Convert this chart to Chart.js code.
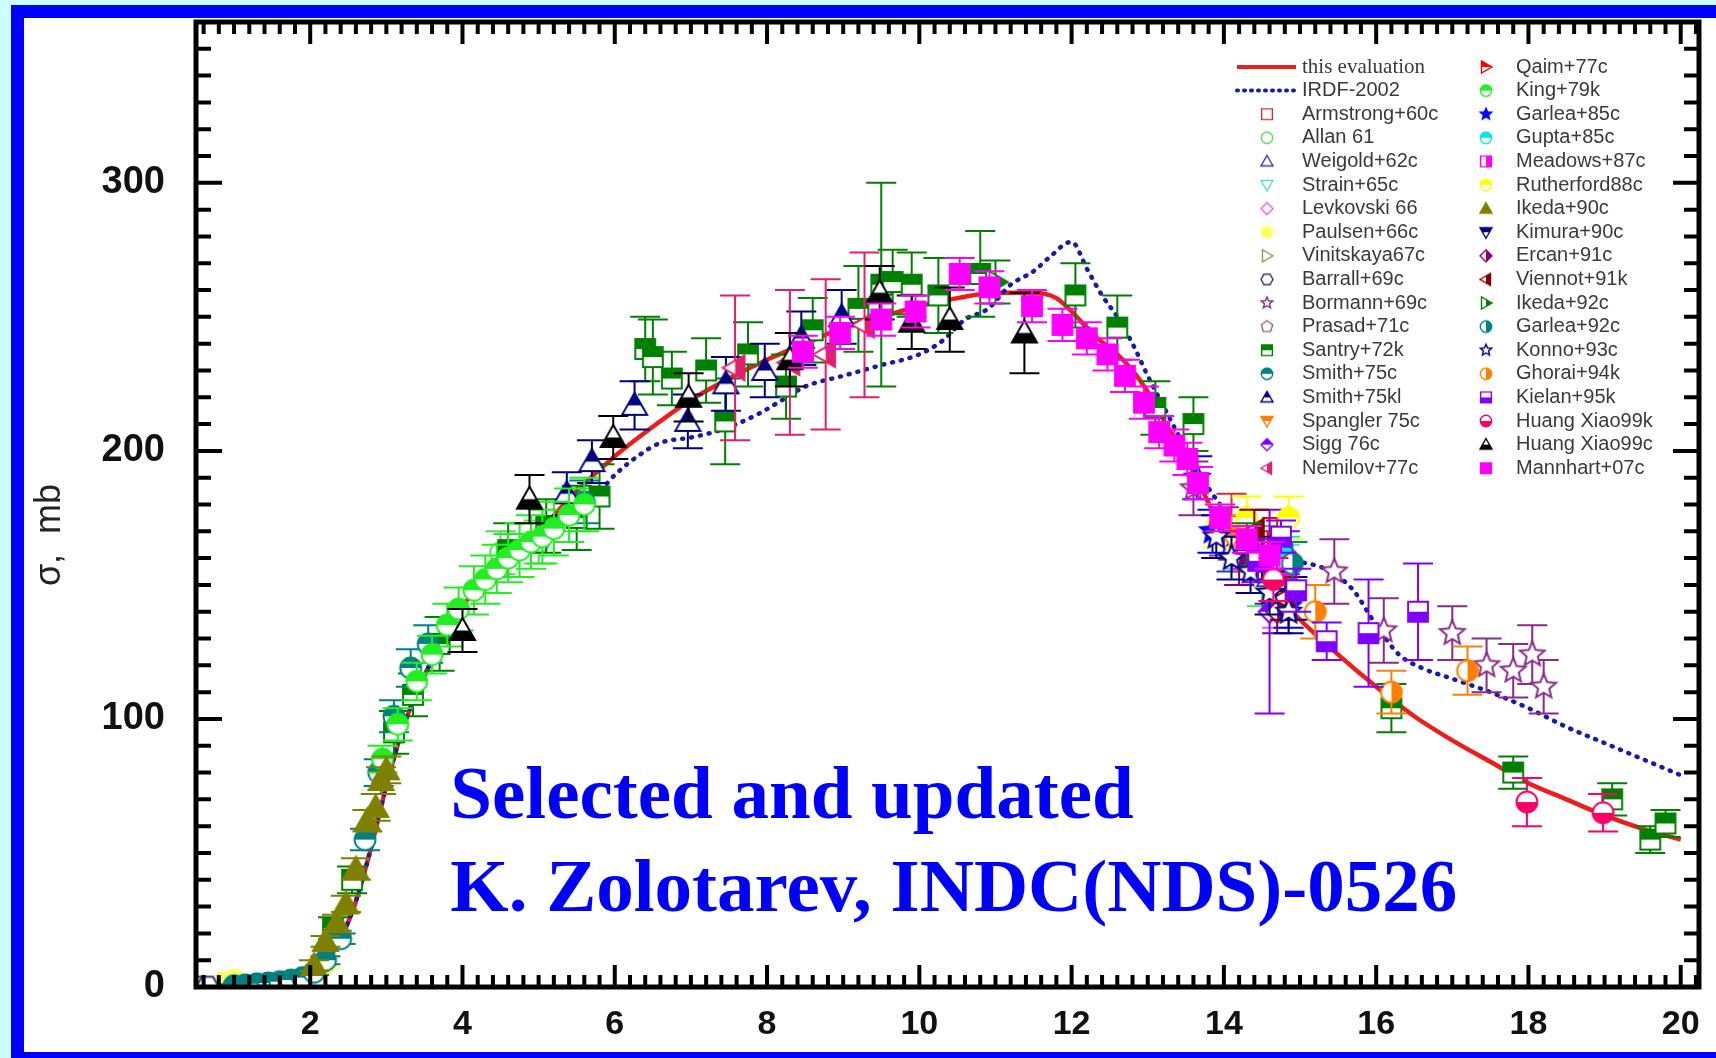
<!DOCTYPE html>
<html>
<head>
<meta charset="utf-8">
<title>Cross section</title>
<script src="https://cdn.jsdelivr.net/npm/chart.js@4.4.1/dist/chart.umd.min.js"></script>
<style>
  html, body { margin: 0; padding: 0; background: #ccffff; }
  #wrap { width: 1716px; height: 1058px; }
</style>
</head>
<body>
<div id="wrap"><canvas id="xsChart" width="1716" height="1058"></canvas></div>
<script>
// axes
const xTickVals = [2, 4, 6, 8, 10, 12, 14, 16, 18, 20];
const yTickVals = [0, 100, 200, 300];

// evaluated curves (E in MeV, sigma in mb)
const evalE = [0.5, 1.0, 1.5, 1.8, 2.0, 2.2, 2.4, 2.6, 2.8, 3.0, 3.2, 3.4, 3.6, 3.8, 4.0, 4.3, 4.6, 5.0, 5.5, 6.0, 6.5, 7.0, 7.5, 8.0, 8.5, 9.0, 9.5, 10.0, 10.5, 11.0, 11.5, 11.8, 12.0, 12.3, 12.6, 12.8, 13.0, 13.2, 13.4, 13.6, 13.9, 14.2, 14.5, 15.0, 15.5, 16.0, 16.5, 17.0, 17.5, 18.0, 18.5, 19.0, 19.5, 20.0];
const evalS = [0, 0.3, 1.0, 2.0, 4, 9, 18, 32, 52, 75, 95, 110, 122, 133, 142, 152, 160, 170, 185, 198, 209, 219, 227, 234, 240, 246, 250, 254, 257, 259, 259, 257, 252, 243, 236, 230, 222, 212, 202, 192, 175, 162, 152, 137, 124, 112, 101, 92, 84, 76, 70, 64, 59, 55];
const irdfE = [0.5, 1.0, 1.5, 2.0, 2.2, 2.4, 2.6, 2.8, 3.0, 3.2, 3.4, 3.6, 3.8, 4.0, 4.5, 5.0, 5.5, 5.8, 6.0, 6.3, 6.6, 7.0, 7.3, 7.6, 7.9, 8.2, 8.5, 9.0, 9.5, 10.0, 10.3, 10.6, 10.9, 11.2, 11.5, 11.7, 12.0, 12.2, 12.4, 12.6, 12.8, 13.0, 13.2, 13.4, 13.6, 13.8, 14.0, 14.2, 14.5, 14.8, 15.1, 15.4, 15.7, 16.0, 16.3, 16.6, 17.0, 17.5, 18.0, 18.5, 19.0, 19.5, 20.0];
const irdfS = [0, 0.3, 1.0, 4, 9, 18, 32, 52, 75, 95, 110, 122, 133, 142, 158, 170, 180, 185, 191, 198, 203, 205, 207, 210, 214, 219, 224, 228, 232, 236, 241, 249, 253, 262, 267, 272, 278, 268, 258, 250, 240, 228, 217, 206, 195, 186, 178, 170, 163, 159, 158, 155, 148, 135, 124, 119, 115, 110, 104, 97, 91, 85, 79];

// experimental data: [E (MeV), sigma (mb), error (mb)]
const armstrong60c = [[14.1, 172, 12], [14.7, 158, 12]];
const allan61 = [[4.5, 162, 8], [5.0, 166, 8], [5.5, 178, 8], [14.5, 152, 10]];
const weigold62c = [[14.1, 163, 8], [14.6, 153, 10]];
const strain65c = [[14.2, 166, 10], [14.8, 157, 8]];
const levkovski66 = [[14.7, 146, 12]];
const paulsen66c = [[0.85, 1.5, 1], [1.0, 2.5, 1], [2.2, 9, 2], [13.9, 172, 8]];
const vinitskaya67c = [[14.5, 162, 10]];
const barrall69c = [[0.55, 0.3, 0.3], [0.65, 0.3, 0.3], [14.7, 150, 8]];
const bormann69c = [[13.6, 186, 10], [14.0, 170, 9], [15.45, 155, 12], [16.1, 133, 12], [17.0, 132, 10], [17.45, 120, 10], [17.8, 118, 10], [18.05, 124, 11], [18.2, 112, 10]];
const prasad71c = [[14.3, 163, 8]];
const santry72k = [[2.3, 22, 4], [2.55, 40, 5], [3.1, 95, 8], [3.35, 109, 8], [3.7, 128, 10], [4.6, 163, 10], [5.1, 172, 10], [5.5, 175, 12], [5.8, 183, 12], [6.4, 238, 12], [6.5, 235, 14], [6.75, 227, 10], [7.2, 230, 12], [7.45, 211, 16], [7.75, 236, 12], [8.25, 224, 12], [8.6, 245, 12], [9.2, 253, 16], [9.5, 262, 38], [9.65, 263, 12], [9.9, 262, 12], [10.25, 258, 14], [10.8, 266, 16], [12.05, 258, 12], [12.6, 246, 12], [13.1, 216, 10], [13.6, 210, 10], [16.2, 104, 9], [17.8, 80, 6], [19.1, 70, 6], [19.6, 55, 5], [19.8, 61, 5]];
const smith75c = [[1.0, 0.5, 0.5], [1.15, 0.8, 0.5], [1.3, 1.2, 0.5], [1.45, 1.5, 0.6], [1.6, 2, 0.6], [1.75, 2.6, 0.7], [1.9, 3.5, 0.8], [2.05, 5.5, 1], [2.2, 10, 1.5], [2.4, 18, 2], [2.72, 55, 4], [2.9, 80, 5], [3.1, 101, 6], [3.32, 119, 7], [3.55, 128, 7], [5.6, 181, 8]];
const smith75kl = [[5.37, 184, 8], [5.7, 196, 8], [6.26, 217, 9], [6.96, 211, 10], [7.46, 225, 10], [7.97, 230, 10], [8.45, 242, 10], [8.98, 250, 10]];
const spangler75c = [[14.1, 168, 8]];
const sigg76c = [[14.6, 140, 38], [14.8, 162, 8]];
const nemilov77c = [[7.58, 231, 27], [8.3, 233, 27], [8.77, 236, 28], [9.28, 247, 27]];
const qaim77c = [[14.7, 165, 10]];
const king79k = [[2.95, 85, 5], [3.15, 98, 6], [3.4, 114, 7], [3.6, 124, 7], [3.8, 135, 8], [3.95, 141, 8], [4.15, 148, 9], [4.3, 152, 9], [4.45, 156, 9], [4.6, 160, 9], [4.75, 163, 10], [4.9, 166, 10], [5.05, 168, 10], [5.2, 171, 10], [5.4, 176, 10], [5.6, 180, 10]];
const garlea85c = [[13.65, 190, 8], [13.85, 170, 8], [14.85, 142, 8]];
const gupta85c = [[14.8, 160, 8]];
const meadows87c = [[14.3, 162, 6], [14.8, 150, 6]];
const rutherford88c = [[14.3, 175, 8], [14.85, 175, 8]];
const ikeda90c = [[2.05, 8, 2], [2.2, 17, 2], [2.35, 24, 3], [2.47, 31, 3], [2.6, 44, 4], [2.75, 62, 4], [2.86, 67, 5], [2.93, 77, 5], [3.0, 81, 5]];
const kimura90c = [[14.5, 160, 8], [14.9, 145, 8]];
const ercan91c = [[14.2, 160, 10], [14.7, 140, 8]];
const viennot91k = [[14.4, 170, 8], [14.8, 145, 8]];
const ikeda92c = [[11.0, 263, 8], [14.3, 165, 8]];
const garlea92c = [[14.9, 158, 8]];
const konno93c = [[13.9, 168, 8], [14.1, 160, 8], [14.35, 155, 8], [14.6, 147, 8], [14.85, 140, 8]];
const ghorai94k = [[15.2, 140, 10], [16.2, 110, 8], [17.2, 118, 9]];
const kielan95k = [[14.45, 159, 8], [14.75, 168, 6], [14.95, 148, 8], [15.35, 129, 7], [15.9, 132, 20], [16.55, 140, 18]];
const huang99k = [[14.65, 152, 8], [17.98, 69, 9], [18.98, 65, 7]];
const huang99c = [[4.0, 133, 8], [4.88, 182, 9], [5.98, 205, 8], [6.97, 220, 9], [8.3, 234, 10], [9.48, 259, 10], [9.9, 248, 10], [10.4, 249, 12], [11.38, 244, 15]];
const mannhart07c = [[8.47, 237, 6], [8.96, 244, 6], [9.5, 249, 6], [9.95, 252, 6], [10.53, 266, 6], [10.92, 261, 6], [11.48, 254, 6], [11.88, 247, 6], [12.2, 242, 6], [12.47, 236, 6], [12.7, 228, 6], [12.95, 218, 6], [13.15, 207, 6], [13.35, 202, 6], [13.52, 197, 6], [13.66, 188, 6], [13.95, 175, 5], [14.3, 167, 5], [14.6, 161, 5]];

const series = [
  { label: 'Armstrong+60c', data: armstrong60c, shape: 'square', color: '#cc3333', fill: 'open' },
  { label: 'Allan 61', data: allan61, shape: 'circle', color: '#55dd55', fill: 'open' },
  { label: 'Weigold+62c', data: weigold62c, shape: 'triUp', color: '#3333bb', fill: 'open' },
  { label: 'Strain+65c', data: strain65c, shape: 'triDown', color: '#55dddd', fill: 'open' },
  { label: 'Levkovski 66', data: levkovski66, shape: 'diamond', color: '#ee55ee', fill: 'open' },
  { label: 'Paulsen+66c', data: paulsen66c, shape: 'circle', color: '#ffff66', fill: 'full' },
  { label: 'Vinitskaya67c', data: vinitskaya67c, shape: 'triRight', color: '#999955', fill: 'open' },
  { label: 'Barrall+69c', data: barrall69c, shape: 'hexagon', color: '#333377', fill: 'open' },
  { label: 'Bormann+69c', data: bormann69c, shape: 'star', color: '#8a2a8a', fill: 'open' },
  { label: 'Prasad+71c', data: prasad71c, shape: 'pentagon', color: '#996666', fill: 'open' },
  { label: 'Santry+72k', data: santry72k, shape: 'square', color: '#008000', fill: 'top' },
  { label: 'Smith+75c', data: smith75c, shape: 'circle', color: '#008080', fill: 'top' },
  { label: 'Smith+75kl', data: smith75kl, shape: 'triUp', color: '#000080', fill: 'top' },
  { label: 'Spangler 75c', data: spangler75c, shape: 'triDown', color: '#ff8000', fill: 'top' },
  { label: 'Sigg 76c', data: sigg76c, shape: 'diamond', color: '#8000ff', fill: 'top' },
  { label: 'Nemilov+77c', data: nemilov77c, shape: 'triLeft', color: '#e0206f', fill: 'right' },
  { label: 'Qaim+77c', data: qaim77c, shape: 'triRight', color: '#ff0000', fill: 'top' },
  { label: 'King+79k', data: king79k, shape: 'circle', color: '#22ee22', fill: 'top' },
  { label: 'Garlea+85c', data: garlea85c, shape: 'star', color: '#0000ff', fill: 'full' },
  { label: 'Gupta+85c', data: gupta85c, shape: 'circle', color: '#00e5ee', fill: 'top' },
  { label: 'Meadows+87c', data: meadows87c, shape: 'square', color: '#ff00ff', fill: 'right' },
  { label: 'Rutherford88c', data: rutherford88c, shape: 'circle', color: '#ffff00', fill: 'top' },
  { label: 'Ikeda+90c', data: ikeda90c, shape: 'triUp', color: '#808000', fill: 'full' },
  { label: 'Kimura+90c', data: kimura90c, shape: 'triDown', color: '#000080', fill: 'top' },
  { label: 'Ercan+91c', data: ercan91c, shape: 'diamond', color: '#800080', fill: 'right' },
  { label: 'Viennot+91k', data: viennot91k, shape: 'triLeft', color: '#800000', fill: 'right' },
  { label: 'Ikeda+92c', data: ikeda92c, shape: 'triRight', color: '#008000', fill: 'right' },
  { label: 'Garlea+92c', data: garlea92c, shape: 'circle', color: '#008080', fill: 'right' },
  { label: 'Konno+93c', data: konno93c, shape: 'star', color: '#000080', fill: 'open' },
  { label: 'Ghorai+94k', data: ghorai94k, shape: 'circle', color: '#ff8000', fill: 'right' },
  { label: 'Kielan+95k', data: kielan95k, shape: 'square', color: '#8000ff', fill: 'bottom' },
  { label: 'Huang Xiao99k', data: huang99k, shape: 'circle', color: '#ff0066', fill: 'bottom' },
  { label: 'Huang Xiao99c', data: huang99c, shape: 'triUp', color: '#000000', fill: 'bottom' },
  { label: 'Mannhart+07c', data: mannhart07c, shape: 'square', color: '#ff00ff', fill: 'full' }
];

const shapes = {
  square(g, x, y, r) { g.rect(x - r * 0.9, y - r * 0.9, r * 1.8, r * 1.8); },
  circle(g, x, y, r) { g.arc(x, y, r * 0.95, 0, Math.PI * 2); },
  triUp(g, x, y, r) { g.moveTo(x, y - r); g.lineTo(x + r, y + 0.75 * r); g.lineTo(x - r, y + 0.75 * r); g.closePath(); },
  triDown(g, x, y, r) { g.moveTo(x, y + r); g.lineTo(x + r, y - 0.75 * r); g.lineTo(x - r, y - 0.75 * r); g.closePath(); },
  triLeft(g, x, y, r) { g.moveTo(x - r, y); g.lineTo(x + 0.75 * r, y - r); g.lineTo(x + 0.75 * r, y + r); g.closePath(); },
  triRight(g, x, y, r) { g.moveTo(x + r, y); g.lineTo(x - 0.75 * r, y - r); g.lineTo(x - 0.75 * r, y + r); g.closePath(); },
  diamond(g, x, y, r) { g.moveTo(x, y - r); g.lineTo(x + r, y); g.lineTo(x, y + r); g.lineTo(x - r, y); g.closePath(); },
  star(g, x, y, r) {
    for (let k = 0; k < 10; k++) {
      const a = -Math.PI / 2 + k * Math.PI / 5, rr = k % 2 ? r * 0.45 : r;
      if (k === 0) g.moveTo(x + rr * Math.cos(a), y + rr * Math.sin(a));
      else g.lineTo(x + rr * Math.cos(a), y + rr * Math.sin(a));
    }
    g.closePath();
  },
  pentagon(g, x, y, r) {
    for (let k = 0; k < 5; k++) {
      const a = -Math.PI / 2 + k * 2 * Math.PI / 5;
      if (k === 0) g.moveTo(x + r * Math.cos(a), y + r * Math.sin(a));
      else g.lineTo(x + r * Math.cos(a), y + r * Math.sin(a));
    }
    g.closePath();
  },
  hexagon(g, x, y, r) {
    for (let k = 0; k < 6; k++) {
      const a = k * Math.PI / 3;
      if (k === 0) g.moveTo(x + r * Math.cos(a), y + r * Math.sin(a));
      else g.lineTo(x + r * Math.cos(a), y + r * Math.sin(a));
    }
    g.closePath();
  }
};

// Origin style markers: open, full or half filled
function makeMarker(shape, color, fill, size) {
  const lw = size > 16 ? 2 : 1.4;
  const pad = Math.ceil(lw) + 1;
  const c = document.createElement('canvas');
  c.width = c.height = Math.ceil(size + 2 * pad);
  const g = c.getContext('2d');
  const cx = c.width / 2, cy = c.height / 2, r = size / 2;
  const trace = () => { g.beginPath(); shapes[shape](g, cx, cy, r); };
  trace();
  g.fillStyle = fill === 'full' ? color : '#ffffff';
  g.fill();
  if (fill !== 'full' && fill !== 'open') {
    g.save();
    trace();
    g.clip();
    g.fillStyle = color;
    if (fill === 'top') g.fillRect(0, 0, c.width, cy);
    else if (fill === 'bottom') g.fillRect(0, cy, c.width, c.height - cy);
    else if (fill === 'left') g.fillRect(0, 0, cx, c.height);
    else g.fillRect(cx, 0, c.width - cx, c.height);
    g.restore();
  }
  trace();
  g.lineWidth = lw;
  g.strokeStyle = color;
  g.stroke();
  return c;
}

function markerSize(shape) {
  if (shape.startsWith('tri')) return 25;
  if (shape === 'star') return 26;
  return 22;
}

const datasets = [
  {
    label: 'this evaluation',
    data: evalE.map((e, i) => ({ x: e, y: evalS[i] })),
    showLine: true, borderColor: '#ee1c1c', borderWidth: 4.5,
    pointRadius: 0, cubicInterpolationMode: 'monotone', order: 100,
    legendLine: { color: '#ee1c1c', dash: [] }
  },
  {
    label: 'IRDF-2002',
    data: irdfE.map((e, i) => ({ x: e, y: irdfS[i] })),
    showLine: true, borderColor: '#1a1aa8', borderWidth: 4.5, borderDash: [1, 8],
    borderCapStyle: 'round', pointRadius: 0, cubicInterpolationMode: 'monotone', order: 99,
    legendLine: { color: '#1a1aa8', dash: [1, 6] }
  }
].concat(series.map((s, i) => ({
  label: s.label,
  data: s.data.map(p => ({ x: p[0], y: p[1], err: p[2] })),
  pointStyle: makeMarker(s.shape, s.color, s.fill, markerSize(s.shape)),
  pointRadius: 10,
  showLine: false,
  order: 50 - i,
  errColor: s.color,
  legendIcon: makeMarker(s.shape, s.color, s.fill, 12)
})));

const noteLines = ['Selected and updated', 'K. Zolotarev, INDC(NDS)-0526'];

const decor = {
  id: 'decor',
  beforeDraw(chart) {
    const ctx = chart.ctx;
    ctx.save();
    ctx.fillStyle = '#ccffff';
    ctx.fillRect(0, 0, chart.width, chart.height);
    ctx.fillStyle = '#0000ff';
    ctx.fillRect(11, 5, chart.width - 11, chart.height - 5);
    ctx.fillStyle = '#ffffff';
    ctx.fillRect(24, 18, chart.width - 24, chart.height - 24);
    ctx.restore();
  },
  beforeDatasetDraw(chart, args) {
    const ds = chart.data.datasets[args.index];
    if (!ds.errColor) return;
    const ctx = chart.ctx, xs = chart.scales.x, ys = chart.scales.y, a = chart.chartArea;
    ctx.save();
    ctx.beginPath();
    ctx.rect(a.left, a.top, a.right - a.left, a.bottom - a.top);
    ctx.clip();
    ctx.strokeStyle = ds.errColor;
    ctx.lineWidth = 2;
    ds.data.forEach(p => {
      const px = xs.getPixelForValue(p.x);
      const lo = ys.getPixelForValue(p.y - p.err), hi = ys.getPixelForValue(p.y + p.err);
      ctx.beginPath();
      ctx.moveTo(px, lo); ctx.lineTo(px, hi);
      ctx.moveTo(px - 15, lo); ctx.lineTo(px + 15, lo);
      ctx.moveTo(px - 15, hi); ctx.lineTo(px + 15, hi);
      ctx.stroke();
    });
    ctx.restore();
  },
  afterDraw(chart) {
    const ctx = chart.ctx, xs = chart.scales.x, ys = chart.scales.y, a = chart.chartArea;
    ctx.save();
    // frame and inward ticks
    ctx.strokeStyle = '#000';
    ctx.lineWidth = 5;
    ctx.strokeRect(a.left, a.top, a.right - a.left, a.bottom - a.top);
    ctx.lineWidth = 4;
    for (let k = 3; k <= 101; k++) {
      const px = xs.getPixelForValue(k * 0.2);
      const len = k % 10 === 0 ? 22 : 12;
      ctx.beginPath();
      ctx.moveTo(px, a.bottom); ctx.lineTo(px, a.bottom - len);
      ctx.moveTo(px, a.top); ctx.lineTo(px, a.top + len);
      ctx.stroke();
    }
    for (let k = 1; k <= 35; k++) {
      const py = ys.getPixelForValue(k * 10);
      const len = k % 10 === 0 ? 26 : 15;
      ctx.beginPath();
      ctx.moveTo(a.left, py); ctx.lineTo(a.left + len, py);
      ctx.moveTo(a.right, py); ctx.lineTo(a.right - len, py);
      ctx.stroke();
    }
    // y axis title
    ctx.save();
    ctx.translate(50, 535);
    ctx.rotate(-Math.PI / 2);
    ctx.fillStyle = '#222';
    ctx.font = '36px "Liberation Sans", Arial, sans-serif';
    ctx.textAlign = 'center';
    ctx.textBaseline = 'middle';
    ctx.fillText('\u03c3,  mb', 0, 0);
    ctx.restore();
    // note
    ctx.fillStyle = '#0000ff';
    ctx.font = 'bold 75px "Liberation Serif", "Times New Roman", serif';
    ctx.textAlign = 'left';
    ctx.textBaseline = 'alphabetic';
    const nx = xs.getPixelForValue(3.84), ny = ys.getPixelForValue(63);
    noteLines.forEach((t, i) => ctx.fillText(t, nx, ny + i * 93));
    // legend, two columns
    ctx.textBaseline = 'middle';
    chart.data.datasets.forEach((ds, i) => {
      const col = i < 18 ? 0 : 1, row = i % 18;
      const y = 67 + row * 23.6;
      const ix = col ? 1486 : 1267, tx = col ? 1516 : 1302;
      if (ds.legendLine) {
        ctx.strokeStyle = ds.legendLine.color;
        ctx.lineWidth = 4;
        ctx.lineCap = ds.legendLine.dash.length ? 'round' : 'butt';
        ctx.setLineDash(ds.legendLine.dash);
        ctx.beginPath(); ctx.moveTo(1237, y); ctx.lineTo(1296, y); ctx.stroke();
        ctx.setLineDash([]);
        ctx.lineCap = 'butt';
      } else {
        ctx.drawImage(ds.legendIcon, ix - ds.legendIcon.width / 2, y - ds.legendIcon.height / 2);
      }
      ctx.fillStyle = '#3a3a3a';
      ctx.font = i === 0 ? '21px "Liberation Serif", serif' : '20px "Liberation Sans", Arial, sans-serif';
      ctx.fillText(ds.label, tx, y);
    });
    ctx.restore();
  }
};

new Chart(document.getElementById('xsChart'), {
  type: 'scatter',
  data: { datasets },
  options: {
    responsive: false,
    animation: false,
    devicePixelRatio: 1,
    events: [],
    layout: { padding: { top: 22, right: 17, bottom: 0, left: 0 } },
    plugins: { legend: { display: false }, tooltip: { enabled: false } },
    scales: {
      x: {
        type: 'linear', min: 0.5, max: 20.24,
        grid: { display: false, drawTicks: false },
        border: { display: false },
        afterBuildTicks: s => { s.ticks = xTickVals.map(v => ({ value: v })); },
        afterFit: s => { s.height = 71; s.paddingLeft = 0; s.paddingRight = 0; },
        ticks: { autoSkip: false, maxRotation: 0, padding: 17, color: '#111',
          font: { family: '"Liberation Sans", Arial, sans-serif', size: 34, weight: 'bold' } }
      },
      y: {
        type: 'linear', min: 0, max: 360,
        grid: { display: false, drawTicks: false },
        border: { display: false },
        afterBuildTicks: s => { s.ticks = yTickVals.map(v => ({ value: v })); },
        afterFit: s => { s.width = 196; s.paddingTop = 0; s.paddingBottom = 0; },
        ticks: { autoSkip: false, padding: 31, color: '#111',
          font: { family: '"Liberation Sans", Arial, sans-serif', size: 38, weight: 'bold' } }
      }
    }
  },
  plugins: [decor]
});
</script>
</body>
</html>
